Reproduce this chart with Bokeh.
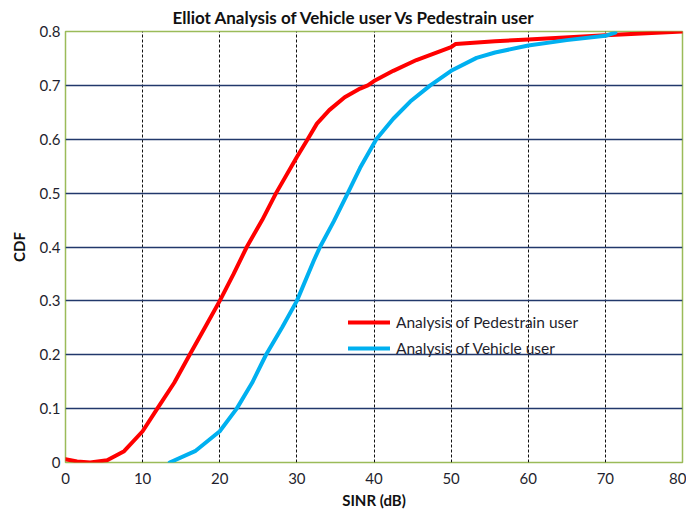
from bokeh.plotting import figure
from bokeh.models import Range1d, FixedTicker, Legend, LegendItem
from bokeh.embed import file_html
from bokeh.resources import INLINE

# Data
sinr_ped = [0, 1.5, 3.2, 5.4, 7.6, 10, 11.9, 14.1, 16.1, 18.1, 20, 21.8, 23.5, 25.5, 27.3,
            30, 31.4, 32.6, 34.2, 36.2, 38.2, 39.2, 40, 42.5, 45.5, 50, 50.6, 55.7, 60, 70, 80]
cdf_ped = [0.006, 0.002, 0.0, 0.004, 0.021, 0.058, 0.1, 0.148, 0.2, 0.251, 0.3, 0.35, 0.4, 0.45, 0.5,
           0.567, 0.6, 0.629, 0.654, 0.678, 0.694, 0.70, 0.708, 0.727, 0.747, 0.771, 0.777, 0.782, 0.785, 0.793, 0.800]

sinr_veh = [13.5, 16.8, 20, 22.2, 24.2, 26.0, 28.1, 30, 32.2, 33.0, 34.8, 36.6, 38.2, 40.3,
            42.5, 44.7, 47.3, 50, 53.3, 55.7, 60, 65, 70, 71.3]
cdf_veh = [0.0, 0.021, 0.058, 0.1, 0.148, 0.2, 0.251, 0.3, 0.375, 0.4, 0.448, 0.5, 0.547, 0.6,
           0.638, 0.67, 0.7, 0.727, 0.751, 0.761, 0.774, 0.784, 0.792, 0.798]

x_ticks = [0, 10, 20, 30, 40, 50, 60, 70, 80]
y_ticks = [0, 0.1, 0.2, 0.3, 0.4, 0.5, 0.6, 0.7, 0.8]
y_tick_labels = ["0", "0.1", "0.2", "0.3", "0.4", "0.5", "0.6", "0.7", "0.8"]

FONT = "Lato"
TXT = "#1f1f2e"

p = figure(width=686, height=515, output_backend="svg", toolbar_location=None,
           x_range=Range1d(0, 80), y_range=Range1d(0, 0.8),
           min_border_left=65, min_border_right=4, min_border_top=31, min_border_bottom=53,
           title="Elliot Analysis of Vehicle user Vs Pedestrain user")

p.title.align = "left"
p.title.text_font = FONT
p.title.text_font_size = "17px"
p.title.text_font_style = "bold"
p.title.text_color = "#111111"
p.title.offset = 107
p.title.standoff = 8

p.outline_line_color = "#9bbb59"
p.outline_line_width = 1.5
p.background_fill_color = "white"
p.border_fill_color = "white"

for ax in (p.xaxis[0], p.yaxis[0]):
    ax.axis_line_color = None
    ax.major_tick_line_color = None
    ax.minor_tick_line_color = None
    ax.major_tick_out = 0
    ax.major_tick_in = 0
    ax.major_label_text_font = FONT
    ax.major_label_text_font_size = "15px"
    ax.major_label_text_color = TXT
    ax.axis_label_text_font = FONT
    ax.axis_label_text_font_size = "15px"
    ax.axis_label_text_font_style = "bold"
    ax.axis_label_text_color = "#111111"

p.xaxis.ticker = FixedTicker(ticks=x_ticks)
p.yaxis.ticker = FixedTicker(ticks=y_ticks)
p.yaxis.major_label_overrides = {t: l for t, l in zip(y_ticks, y_tick_labels)}
p.xaxis.axis_label = "SINR (dB)"
p.yaxis.axis_label = "CDF"
p.xaxis.major_label_standoff = 10
p.xaxis.axis_label_standoff = 4
p.yaxis.major_label_standoff = 5
p.yaxis.axis_label_standoff = 9

p.xgrid.ticker = FixedTicker(ticks=x_ticks[1:-1])
p.xgrid.grid_line_color = "#111111"
p.xgrid.grid_line_dash = "3 2"
p.xgrid.grid_line_width = 1
p.ygrid.ticker = FixedTicker(ticks=y_ticks[1:-1])
p.ygrid.grid_line_color = "#22386b"
p.ygrid.grid_line_width = 1.3

r_ped = p.line(sinr_ped, cdf_ped, line_color="#ff0000", line_width=4, line_join="round", line_cap="round")
r_veh = p.line(sinr_veh, cdf_veh, line_color="#00b0f0", line_width=4, line_join="round", line_cap="round")

legend = Legend(items=[LegendItem(label="Analysis of Pedestrain user", renderers=[r_ped]),
                       LegendItem(label="Analysis of Vehicle user", renderers=[r_veh])],
                location=(283, 104), orientation="vertical")
legend.glyph_width = 42
legend.glyph_height = 20
legend.label_standoff = 6
legend.spacing = 6
legend.padding = 0
legend.margin = 0
legend.border_line_color = None
legend.background_fill_alpha = 0
legend.label_text_font = FONT
legend.label_text_font_size = "15.5px"
legend.label_text_color = TXT
p.add_layout(legend, "center")

open("out.html", "w").write(file_html(p, INLINE))
